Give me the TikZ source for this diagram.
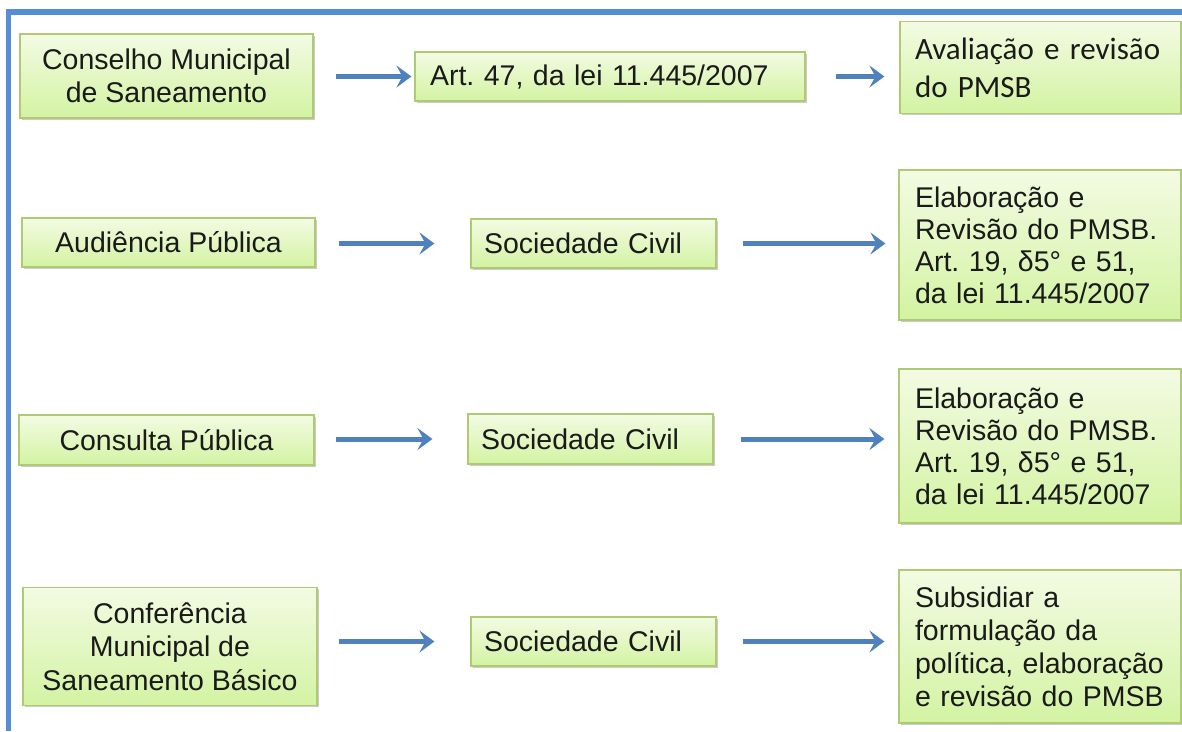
\documentclass[tikz,border=0pt]{standalone}
\usepackage{fontspec}
\setmainfont{Liberation Sans}
\newfontfamily\calfont{Carlito}
\usetikzlibrary{arrows.meta,shadows}
\definecolor{boxtop}{HTML}{F3FBE3}
\definecolor{boxbot}{HTML}{D3F3A2}
\definecolor{boxline}{HTML}{AECB73}
\definecolor{arrblue}{HTML}{4F81BD}
\definecolor{frameblue}{HTML}{558ED5}
\definecolor{txt}{HTML}{1A1A1A}
\tikzset{
  box/.style={draw=boxline, line width=1.2pt, top color=boxtop, bottom color=boxbot,
    text=txt, inner ysep=0pt, font=\fontsize{28.5}{33}\selectfont,
    drop shadow={shadow xshift=1.5pt,shadow yshift=-1.5pt,fill=black,opacity=0.2}},
  cbox/.style={box, align=center, inner xsep=0pt},
  lbox/.style={box, align=left, inner xsep=#1},
  rbox/.style={box, align=left, inner xsep=16pt, text width=250pt, minimum width=282pt,
    font=\fontsize{28.5}{32}\selectfont},
  arr/.style={draw=arrblue, line width=5pt,
    -{Stealth[length=15pt,width=22pt,inset=6pt]}},
}
\begin{document}
\frenchspacing
\begin{tikzpicture}[x=1pt,y=-1pt]
\useasboundingbox (0,0) rectangle (1182,731);
\fill[white] (0,0) rectangle (1182,731);
% frame
\coordinate (f1) at (8.5,731);
\coordinate (f2) at (8.5,12);
\coordinate (f3) at (1182,12);
\draw[frameblue, line width=5.5pt, line join=miter] (f1) -- (f2) -- (f3);

% row 1
\node[cbox, minimum width=293pt, minimum height=84pt] (a1) at (166.5,76)
  {Conselho Municipal\\de Saneamento};
\node[lbox=15pt, text width=360pt, minimum width=390pt, minimum height=49pt] (b1) at (610,76.5)
  {Art. 47, da lei 11.445/2007};
\node[box, align=left, inner xsep=15pt, text width=251pt, minimum width=281pt, minimum height=92pt,
  font=\calfont\fontsize{31}{38}\selectfont] (c1) at (1040.5,67.5)
  {\mbox{Avaliação e revisão}\\do PMSB};

% row 2
\node[cbox, minimum width=293pt, minimum height=49pt] (a2) at (168.5,242.5)
  {Audiência Pública};
\node[lbox=13pt, text width=219pt, minimum width=245pt, minimum height=49pt] (b2) at (593.5,243.5)
  {Sociedade Civil};
\node[rbox, minimum height=150pt] (c2) at (1040,245)
  {Elaboração e\\Revisão do PMSB.\\Art. 19, δ5° e 51,\\da lei 11.445/2007};

% row 3
\node[cbox, minimum width=295pt, minimum height=50pt] (a3) at (166.5,440)
  {Consulta Pública};
\node[lbox=13pt, text width=219pt, minimum width=245pt, minimum height=50pt] (b3) at (590.5,439)
  {Sociedade Civil};
\node[rbox, minimum height=154pt] (c3) at (1040,446)
  {Elaboração e\\Revisão do PMSB.\\Art. 19, δ5° e 51,\\da lei 11.445/2007};

% row 4
\node[cbox, minimum width=294pt, minimum height=118pt, font=\fontsize{28.5}{33.5}\selectfont] (a4) at (170,646.5)
  {Conferência\\Municipal de\\Saneamento Básico};
\node[lbox=13pt, text width=219pt, minimum width=245pt, minimum height=49pt] (b4) at (593.5,641.5)
  {Sociedade Civil};
\node[rbox, minimum height=153pt, font=\fontsize{28.5}{33}\selectfont] (c4) at (1040,646.5)
  {Subsidiar a\\formulação da\\política, elaboração\\e revisão do PMSB};

% arrows
\draw[arr, shorten <=22pt, shorten >=3pt] (b1.west -| a1.east) -- (b1.west);
\draw[arr, shorten <=30pt, shorten >=15pt] (b1.east) -- (b1.east -| c1.west);
\draw[arr, shorten <=23pt, shorten >=36pt] (b2.west -| a2.east) -- (b2.west);
\draw[arr, shorten <=26pt, shorten >=13pt] (b2.east) -- (b2.east -| c2.west);
\draw[arr, shorten <=21pt, shorten >=35pt] (b3.west -| a3.east) -- (b3.west);
\draw[arr, shorten <=27pt, shorten >=14pt] (b3.east) -- (b3.east -| c3.west);
\draw[arr, shorten <=21pt, shorten >=36pt] (b4.west -| a4.east) -- (b4.west);
\draw[arr, shorten <=26pt, shorten >=14pt] (b4.east) -- (b4.east -| c4.west);
\end{tikzpicture}
\end{document}
